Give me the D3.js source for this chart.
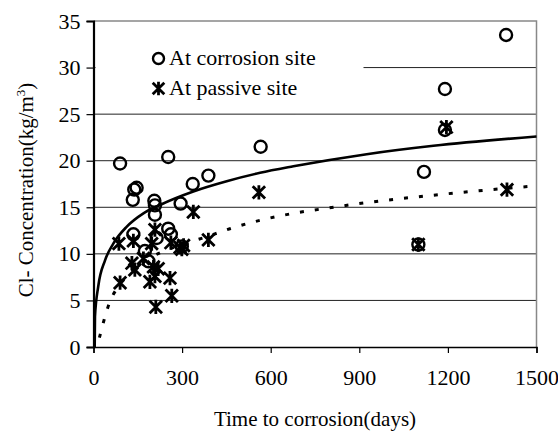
<!DOCTYPE html>
<html>
<head>
<meta charset="utf-8">
<script src="https://cdn.jsdelivr.net/npm/d3@7"></script>
<style>
  html, body { margin: 0; padding: 0; background: #fff; }
  text { font-family: "Liberation Serif", "Times New Roman", serif; fill: #000; }
</style>
</head>
<body>
<div id="chartArea"></div>
<script>
// values
const corrDays = [90, 253, 566, 138, 146, 133, 206, 208, 208, 295, 336, 389, 135, 214, 253, 262, 174, 186, 299, 1397, 1190, 1190, 1119, 1100];
const corrCl   = [19.7, 20.4, 21.5, 16.9, 17.1, 15.8, 15.7, 15.2, 14.2, 15.4, 17.5, 18.4, 12.1, 11.7, 12.7, 12.1, 10.3, 9.2, 10.8, 33.5, 27.7, 23.3, 18.8, 11.0];

const passDays = [86, 90, 135, 130, 140, 169, 197, 208, 203, 219, 208, 191, 211, 259, 265, 293, 305, 338, 389, 560, 1100, 1195, 1400, 299, 262];
const passCl   = [11.1, 6.9, 11.4, 9.0, 8.3, 9.5, 11.1, 12.6, 8.6, 8.4, 7.6, 7.0, 4.3, 7.4, 5.5, 10.7, 10.9, 14.5, 11.5, 16.6, 11.0, 23.6, 16.9, 10.5, 11.2];

// trend lines
const solidDays = [4, 5, 16, 39, 67, 112, 169, 225, 338, 451, 564, 677, 925, 1151, 1500];
const solidCl   = [0, 3.25, 6.5, 9.3, 11.1, 12.9, 14.35, 15.25, 16.7, 17.8, 18.7, 19.4, 20.7, 21.6, 22.6];

const dotDays = [20, 39, 56, 80, 120, 200, 300, 389, 462, 564, 677, 790, 925, 1151, 1331, 1500];
const dotCl   = [1.0, 3.25, 4.9, 6.3, 7.8, 9.7, 11.0, 11.9, 12.7, 13.6, 14.35, 14.9, 15.5, 16.3, 16.85, 17.3];

const xTicks = [0, 300, 600, 900, 1200, 1500];
const yTicks = [0, 5, 10, 15, 20, 25, 30, 35];
const legendLabels = ["At corrosion site", "At passive site"];

const width = 558, height = 440;
const margin = { left: 93.5, right: 21.5, top: 21, bottom: 93 };
const serif = '"Liberation Serif", "Times New Roman", serif';

const svg = d3.select("#chartArea")
              .append("svg")
              .attr("width", width)
              .attr("height", height);

const x = d3.scaleLinear().domain([0, 1500]).range([margin.left, width - margin.right]);
const y = d3.scaleLinear().domain([0, 35]).range([height - margin.bottom, margin.top]);

// gridlines
svg.append("g")
   .selectAll("line")
   .data(yTicks.filter(t => t > 0 && t < 35))
   .enter().append("line")
     .attr("x1", x(0)).attr("x2", x(1500))
     .attr("y1", d => y(d)).attr("y2", d => y(d))
     .attr("stroke", "#222")
     .attr("stroke-width", 1);

// frame (top / right are grey)
svg.append("path")
   .attr("d", `M${x(0)},${y(35)}H${x(1500)}V${y(0)}`)
   .attr("fill", "none")
   .attr("stroke", "#888")
   .attr("stroke-width", 1.5);

// legend background hides part of the 30 line
svg.append("rect")
   .attr("x", x(0) + 2).attr("y", 34)
   .attr("width", 268).attr("height", 70)
   .attr("fill", "#fff");

// axes
const xAxis = d3.axisBottom(x).tickValues(xTicks).tickFormat(d3.format("d")).tickSize(6).tickPadding(16);
const yAxis = d3.axisLeft(y).tickValues(yTicks).tickFormat(d3.format("d")).tickSize(7).tickPadding(6);

const gx = svg.append("g")
   .attr("transform", `translate(0,${y(0)})`)
   .call(xAxis);
const gy = svg.append("g")
   .attr("transform", `translate(${x(0)},0)`)
   .call(yAxis);

[gx, gy].forEach(g => {
  g.select(".domain").attr("stroke", "#000");
  g.selectAll(".tick line").attr("stroke", "#000").attr("stroke-width", 1.2);
  g.selectAll(".tick text")
   .style("font-family", serif)
   .style("font-size", "22px")
   .attr("fill", "#000");
});
gx.select(".domain").attr("stroke-width", 1.5);
gy.select(".domain").attr("stroke-width", 2.2);

// trend lines
const line = d3.line()
               .x(d => x(d[0]))
               .y(d => y(d[1]))
               .curve(d3.curveMonotoneX);

svg.append("path")
   .datum(dotDays.map((d, i) => [d, dotCl[i]]))
   .attr("d", line)
   .attr("fill", "none")
   .attr("stroke", "#000")
   .attr("stroke-width", 3)
   .attr("stroke-dasharray", "4 11");

svg.append("path")
   .datum(solidDays.map((d, i) => [d, solidCl[i]]))
   .attr("d", line)
   .attr("fill", "none")
   .attr("stroke", "#000")
   .attr("stroke-width", 2.6);

// star marker: X plus a vertical bar
function starPath(cx, cy, s) {
  return `M${cx - s},${cy - s}L${cx + s},${cy + s}M${cx + s},${cy - s}L${cx - s},${cy + s}` +
         `M${cx},${cy - s * 1.15}L${cx},${cy + s * 1.15}`;
}

svg.append("g")
   .selectAll("circle")
   .data(corrDays.map((d, i) => [d, corrCl[i]]))
   .enter().append("circle")
     .attr("cx", d => x(d[0]))
     .attr("cy", d => y(d[1]))
     .attr("r", 6)
     .attr("fill", "none")
     .attr("stroke", "#000")
     .attr("stroke-width", 2.4);

svg.append("g")
   .selectAll("path")
   .data(passDays.map((d, i) => [d, passCl[i]]))
   .enter().append("path")
     .attr("d", d => starPath(x(d[0]), y(d[1]), 6.2))
     .attr("fill", "none")
     .attr("stroke", "#000")
     .attr("stroke-width", 2.8);

// legend
const legend = svg.append("g");
legend.append("circle")
      .attr("cx", 158.5).attr("cy", 58.5).attr("r", 5.5)
      .attr("fill", "none").attr("stroke", "#000").attr("stroke-width", 2.4);
legend.append("path")
      .attr("d", starPath(158.5, 88.5, 5.8))
      .attr("fill", "none").attr("stroke", "#000").attr("stroke-width", 2.8);
legend.selectAll("text")
      .data(legendLabels)
      .enter().append("text")
        .attr("x", 169)
        .attr("y", (d, i) => 65 + i * 30)
        .style("font-size", "22px")
        .text(d => d);

// axis titles
svg.append("text")
   .attr("x", (x(0) + x(1500)) / 2)
   .attr("y", 426)
   .attr("text-anchor", "middle")
   .style("font-size", "21px")
   .text("Time to corrosion(days)");

const yTitle = svg.append("text")
   .attr("transform", `translate(33,${(y(0) + y(35)) / 2 + 6}) rotate(-90)`)
   .attr("text-anchor", "middle")
   .style("font-size", "21px");
yTitle.append("tspan").text("Cl- Concentration(kg/m");
yTitle.append("tspan").attr("dy", -8).style("font-size", "13px").text("3");
yTitle.append("tspan").attr("dy", 8).text(")");
</script>
</body>
</html>
